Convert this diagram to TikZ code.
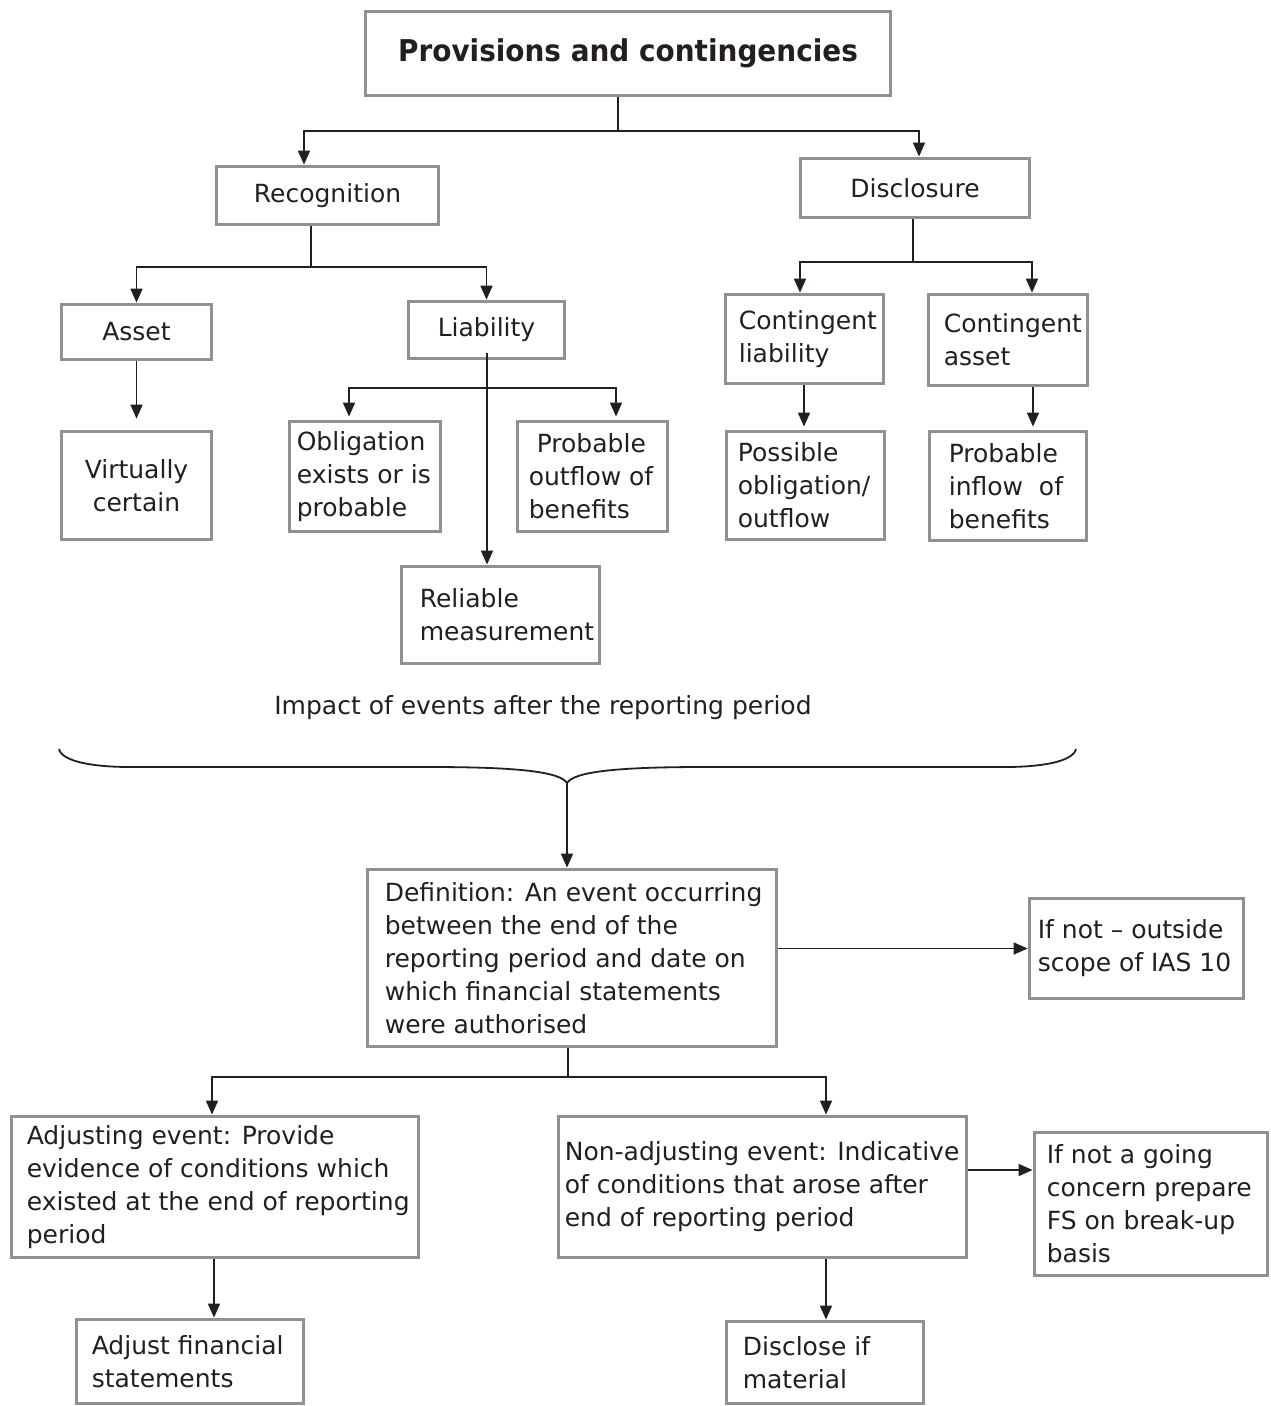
\documentclass[tikz,border=0pt]{standalone}
\usepackage{fontspec}
\usepackage{graphicx}
\setmainfont{DejaVu Sans}
\usetikzlibrary{arrows.meta,calc}
\definecolor{edge}{RGB}{145,145,145}
\definecolor{ink}{RGB}{35,31,32}
\tikzset{
  box/.style={draw=edge, line width=3.8pt, fill=white, inner sep=0pt},
  txt/.style={align=left, inner sep=0pt, text=ink, font=\fontsize{25}{33}\selectfont},
  ctxt/.style={align=center, text=ink, font=\fontsize{25}{33}\selectfont},
  arr/.style={draw=ink, line width=1.6pt, -{Triangle[length=14pt,width=12pt]}},
  link/.style={draw=ink, line width=1.6pt},
}
% left-aligned text box: name, cx, cy, width, height, left pad, text
\newcommand\lbox[7]{%
  \node[box, minimum width=#4pt, minimum height=#5pt] (#1) at (#2,#3) {};
  \node[txt, anchor=west] (#1-text) at ([xshift=#6pt]#1.west) {#7};}
% centred text box: name, cx, cy, width, height, text
\newcommand\cbox[6]{%
  \node[box, ctxt, minimum width=#4pt, minimum height=#5pt] (#1) at (#2,#3) {#6};}
\begin{document}
\begin{tikzpicture}[x=1pt, y=-1pt]
\useasboundingbox[fill=white] (0,0) rectangle (1271,1406);

% ---- upper tree: provisions and contingencies
\node[box, minimum width=525pt, minimum height=84pt, text=ink,
      font=\fontsize{30}{36}\selectfont\bfseries] (title) at (628,53.5)
      {\scalebox{0.93}[1]{Provisions and contingencies}};

\cbox{rec}{327.5}{195.5}{222}{58}{Recognition}
\cbox{disc}{915}{188}{229}{59}{Disclosure}

\cbox{asset}{136.5}{332}{150}{55}{Asset}
\cbox{vc}{136.5}{485.5}{150}{108}{Virtually\\certain}
\cbox{liab}{486.5}{330}{156}{57}{Liability}

\lbox{oblig}{365}{476.5}{151}{110}{9}{Obligation\\exists or is\\probable}
\lbox{pout}{592.5}{476.5}{150}{110}{13}{\hspace*{8pt}Probable\\outflow of\\benefits}
\lbox{rel}{500.5}{615}{198}{97}{20}{Reliable\\measurement}

\lbox{cl}{804.5}{339}{158}{89}{15}{Contingent\\liability}
\lbox{po}{805.5}{485.5}{158}{108}{13}{Possible\\obligation/\\outflow}
\lbox{ca}{1008}{340}{159}{91}{17}{Contingent\\asset}
\lbox{pi}{1008}{486}{157}{109}{21}{Probable\\inflow\ \ of\\benefits}

% title to recognition / disclosure
\coordinate (t0) at (618,131);
\draw[link] (title.south -| t0) -- (t0);
\draw[arr] (t0) -| ([xshift=-23.5pt]rec.north);
\draw[arr] (t0) -| ([xshift=4pt]disc.north);

% recognition to asset / liability
\coordinate (r0) at (311,267);
\draw[link] (rec.south -| r0) -- (r0);
\draw[arr] (r0) -| (asset.north);
\draw[arr] (r0) -| (liab.north);

% disclosure to contingent items
\coordinate (d0) at (913,262);
\draw[link] (disc.south -| d0) -- (d0);
\draw[arr] (d0) -| ([xshift=-4.5pt]cl.north);
\draw[arr] (d0) -| ([xshift=24pt]ca.north);

% asset chain
\draw[arr, shorten >=11pt] (asset.south) -- (vc.north);

% liability chain
\coordinate (l0) at (487,388);
\draw[arr] ([yshift=7pt]liab.south -| l0) -- (rel.north -| l0);
\draw[arr, shorten >=3pt] (l0) -| ([xshift=-16pt]oblig.north);
\draw[arr, shorten >=3pt] (l0) -| ([xshift=23.5pt]pout.north);

% contingent chains
\draw[arr, shorten >=3pt] ([xshift=-0.5pt]cl.south) -- ([xshift=-0.5pt]cl.south |- po.north);
\draw[arr, shorten >=3pt] ([xshift=25pt]ca.south) -- ([xshift=25pt]ca.south |- pi.north);

% ---- lower tree: events after the reporting period
\node[txt] (impact) at (543,708) {Impact of events after the reporting period};

\coordinate (bl) at (59,749);
\coordinate (br) at (1076,749);
\coordinate (tip) at (567,783);
\draw[link, line width=1.8pt] (bl) .. controls (62,762) and (95,767) .. (130,767) -- (430,767)
  .. controls (520,767) and (560,772) .. (tip)
  .. controls (574,772) and (614,767) .. (704,767) -- (1005,767)
  .. controls (1040,767) and (1073,762) .. (br);

\lbox{def}{572}{958}{409}{177}{19}{Definition: An event occurring\\between the end of the\\reporting period and date on\\which financial statements\\were authorised}
\lbox{ifnot}{1136.5}{948.5}{214}{100}{10}{If not -- outside\\scope of IAS 10}

\lbox{adj}{215}{1187}{407}{141}{17}{Adjusting event: Provide\\evidence of conditions which\\existed at the end of reporting\\period}
\lbox{nonadj}{762.5}{1187}{408}{141}{8}{Non-adjusting event: Indicative\\of conditions that arose after\\end of reporting period}
\lbox{going}{1151}{1204}{233}{143}{14}{If not a going\\concern prepare\\FS on break-up\\basis}

\lbox{adjfs}{190}{1361.5}{227}{84}{17}{Adjust financial\\statements}
\lbox{discl}{825}{1362.5}{197}{82}{18}{Disclose if\\material}

\draw[arr] (tip) -- (tip |- def.north);
\draw[arr] (ifnot.west -| def.east) -- (ifnot.west);

\coordinate (e0) at (568,1077);
\draw[link] (def.south -| e0) -- (e0);
\draw[arr] (e0) -| ([xshift=-3pt]adj.north);
\draw[arr] (e0) -| ([xshift=63.5pt]nonadj.north);

\draw[arr] ([xshift=-1pt]adj.south) -- ([xshift=-1pt]adj.south |- adjfs.north);
\draw[arr] ([xshift=63.5pt]nonadj.south) -- ([xshift=63.5pt]nonadj.south |- discl.north);
\draw[arr] ([yshift=17pt]nonadj.east) -- ([yshift=17pt]nonadj.east -| going.west);
\end{tikzpicture}
\end{document}
